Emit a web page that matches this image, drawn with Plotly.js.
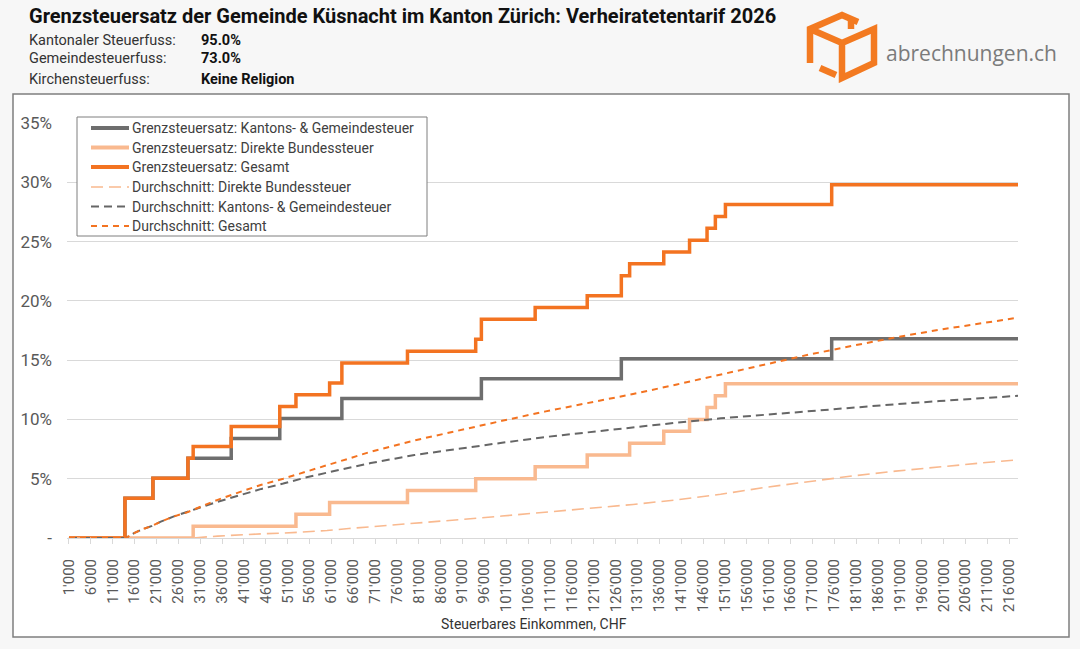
<!DOCTYPE html>
<html>
<head>
<meta charset="utf-8">
<script src="https://cdn.plot.ly/plotly-3.0.1.min.js"></script>
<style>html,body{margin:0;padding:0;background:#f7f7f7;}#chart{width:1080px;height:649px;}</style>
</head>
<body>
<div id="chart"></div>
<script>
// ---- Data (CHF, %) ----
const kgIncome   = [1000, 13800, 20200, 28200, 38100, 49200, 63400, 95300, 127300, 175400, 218000];
const kgRate     = [0, 3.36, 5.04, 6.72, 8.40, 10.08, 11.76, 13.44, 15.12, 16.80, 16.80];

const dbstIncome = [1000, 29400, 52900, 60600, 78400, 94000, 107600, 119500, 129200, 137000, 142900, 146900, 148800, 151100, 218000];
const dbstRate   = [0, 1, 2, 3, 4, 5, 6, 7, 8, 9, 10, 11, 12, 13, 13];

const totIncome  = [1000, 13800, 20200, 28200, 29400, 38100, 49200, 52900, 60600, 63400, 78400, 94000, 95300, 107600, 119500, 127300, 129200, 137000, 142900, 146900, 148800, 151100, 175400, 218000];
const totRate    = [0, 3.36, 5.04, 6.72, 7.72, 9.40, 11.08, 12.08, 13.08, 14.76, 15.76, 16.76, 18.44, 19.44, 20.44, 22.12, 23.12, 24.12, 25.12, 26.12, 27.12, 28.12, 29.80, 29.80];

const avgIncome  = [1000, 14000, 16000, 18000, 20000, 22000, 25000, 28000, 30000, 35000, 40000, 45000, 50000, 55000, 60000, 65000, 70000, 80000, 90000, 100000, 110000, 120000, 130000, 140000, 150000, 160000, 170000, 180000, 190000, 200000, 210000, 218000];
const avgDbst    = [0, 0, 0, 0, 0, 0, 0, 0, 0.02, 0.16, 0.27, 0.35, 0.41, 0.50, 0.63, 0.80, 0.96, 1.23, 1.54, 1.85, 2.16, 2.48, 2.83, 3.22, 3.69, 4.26, 4.77, 5.23, 5.64, 6.01, 6.34, 6.59];
const avgKg      = [0, 0, 0.44, 0.77, 1.02, 1.38, 1.82, 2.16, 2.45, 3.06, 3.60, 4.14, 4.59, 5.09, 5.51, 5.90, 6.32, 7.00, 7.53, 8.03, 8.52, 8.93, 9.31, 9.73, 10.09, 10.40, 10.68, 10.97, 11.28, 11.55, 11.80, 11.99];
const avgTot     = [0, 0, 0.44, 0.77, 1.02, 1.38, 1.82, 2.16, 2.47, 3.22, 3.87, 4.49, 5.00, 5.59, 6.14, 6.70, 7.28, 8.23, 9.07, 9.88, 10.68, 11.41, 12.14, 12.95, 13.78, 14.66, 15.45, 16.20, 16.92, 17.56, 18.14, 18.58];

const xTickVals = [1000, 6000, 11000, 16000, 21000, 26000, 31000, 36000, 41000, 46000, 51000, 56000, 61000, 66000, 71000, 76000, 81000, 86000, 91000, 96000, 101000, 106000, 111000, 116000, 121000, 126000, 131000, 136000, 141000, 146000, 151000, 156000, 161000, 166000, 171000, 176000, 181000, 186000, 191000, 196000, 201000, 206000, 211000, 216000];
const xTickText = ["1'000", "6'000", "11'000", "16'000", "21'000", "26'000", "31'000", "36'000", "41'000", "46'000", "51'000", "56'000", "61'000", "66'000", "71'000", "76'000", "81'000", "86'000", "91'000", "96'000", "101'000", "106'000", "111'000", "116'000", "121'000", "126'000", "131'000", "136'000", "141'000", "146'000", "151'000", "156'000", "161'000", "166'000", "171'000", "176'000", "181'000", "186'000", "191'000", "196'000", "201'000", "206'000", "211'000", "216'000"];
const yTickVals = [0, 5, 10, 15, 20, 25, 30, 35];
const yTickText = ["-", "5%", "10%", "15%", "20%", "25%", "30%", "35%"];

const seriesNames = [
  "Grenzsteuersatz: Kantons- & Gemeindesteuer",
  "Grenzsteuersatz: Direkte Bundessteuer",
  "Grenzsteuersatz: Gesamt",
  "Durchschnitt: Direkte Bundessteuer",
  "Durchschnitt: Kantons- & Gemeindesteuer",
  "Durchschnitt: Gesamt"
];

const title = "Grenzsteuersatz der Gemeinde Küsnacht im Kanton Zürich: Verheiratetentarif 2026";
const infoLabels = ["Kantonaler Steuerfuss:", "Gemeindesteuerfuss:", "Kirchensteuerfuss:"];
const infoValues = ["95.0%", "73.0%", "Keine Religion"];
const xTitle = "Steuerbares Einkommen, CHF";
const brand = "abrechnungen.ch";

// ---- Styles ----
const C_GRAY = "#6e6e6e", C_LIGHT = "#f9b98f", C_ORANGE = "#f37321", C_DGRAY = "#666666";
const FONT = "Roboto, 'Noto Sans', sans-serif";
const styles = [
  {color: C_GRAY, width: 3.5, dash: "solid", shape: "hv"},
  {color: C_LIGHT, width: 3.5, dash: "solid", shape: "hv"},
  {color: C_ORANGE, width: 3.5, dash: "solid", shape: "hv"},
  {color: C_LIGHT, width: 1.6, dash: "12px,6px", shape: "linear"},
  {color: C_DGRAY, width: 2, dash: "8px,5px", shape: "linear"},
  {color: C_ORANGE, width: 2, dash: "6px,5px", shape: "linear"}
];

// plot area in px
const L = 67, R = 1018, T = 123, B = 538;
const px2x = p => (p - L) / (R - L);
const py2y = p => (B - p) / (B - T);

const xs = [kgIncome, dbstIncome, totIncome, avgIncome, avgIncome, avgIncome];
const ys = [kgRate, dbstRate, totRate, avgDbst, avgKg, avgTot];
const traces = xs.map((x, i) => ({
  x: x, y: ys[i], name: seriesNames[i], mode: "lines", showlegend: false,
  line: {shape: styles[i].shape, color: styles[i].color, width: styles[i].width, dash: styles[i].dash}
}));

const annotations = [];
const shapes = [
  {type: "rect", xref: "paper", yref: "paper", x0: px2x(13), x1: px2x(1069), y0: py2y(637), y1: py2y(94), fillcolor: "#ffffff", line: {color: "#7f7f7f", width: 1.5}, layer: "below"}
];

annotations.push({text: "<b>" + title + "</b>", xref: "paper", yref: "paper", x: px2x(27), y: py2y(16), xanchor: "left", yanchor: "middle", showarrow: false, font: {family: FONT, size: 20, color: "#111"}});
const rowsY = [40, 59, 79];
for (let i = 0; i < infoLabels.length; i++) {
  annotations.push({text: infoLabels[i], xref: "paper", yref: "paper", x: px2x(27), y: py2y(rowsY[i]), xanchor: "left", yanchor: "middle", showarrow: false, font: {family: FONT, size: 14.5, color: "#333"}});
  annotations.push({text: "<b>" + infoValues[i] + "</b>", xref: "paper", yref: "paper", x: px2x(199), y: py2y(rowsY[i]), xanchor: "left", yanchor: "middle", showarrow: false, font: {family: FONT, size: 14.5, color: "#111"}});
}
annotations.push({text: brand, xref: "paper", yref: "paper", x: px2x(884), y: py2y(53), xanchor: "left", yanchor: "middle", showarrow: false, font: {family: "'Open Sans', sans-serif", size: 21, color: "#7b7b7b"}});
annotations.push({text: xTitle, xref: "paper", yref: "paper", x: px2x(534), y: py2y(624), xanchor: "center", yanchor: "middle", showarrow: false, font: {family: FONT, size: 14, color: "#333"}});

// ---- Legend (box, samples, labels) ----
const legL = 77, legR = 427, legT = 117, legB = 236;
const legRows = [128, 147.5, 167, 187, 206.5, 226];
shapes.push({type: "rect", xref: "paper", yref: "paper", x0: px2x(legL), x1: px2x(legR), y0: py2y(legB), y1: py2y(legT), fillcolor: "#ffffff", line: {color: "#7f7f7f", width: 1}, layer: "above"});
for (let i = 0; i < seriesNames.length; i++) {
  const s = styles[i];
  shapes.push({type: "line", xref: "paper", yref: "paper", x0: px2x(91), x1: px2x(129), y0: py2y(legRows[i]), y1: py2y(legRows[i]),
    line: {color: s.color, width: s.dash === "solid" ? 4 : s.width, dash: s.dash}, layer: "above"});
  annotations.push({text: seriesNames[i], xref: "paper", yref: "paper", x: px2x(130), y: py2y(legRows[i]), xanchor: "left", yanchor: "middle", showarrow: false, font: {family: FONT, size: 14, color: "#404040"}});
}

const cubeSvg = '<svg xmlns="http://www.w3.org/2000/svg" width="72" height="72" viewBox="0 0 72 72">' +
  '<g fill="none" stroke="#f37a21" stroke-width="6.5" stroke-linejoin="miter" stroke-linecap="butt">' +
  '<path d="M4 52 L4 18 L36 4 L52 11"/>' +
  '<path d="M4 18 L36 32 L68 18 L68 52 L36 67 L36 32"/>' +
  '<path d="M14 57 L30 64"/>' +
  '<path d="M45 18 L45 9"/>' +
  '</g></svg>';

const layout = {
  width: 1080, height: 649,
  paper_bgcolor: "#f7f7f7", plot_bgcolor: "#ffffff",
  margin: {l: L, r: 1080 - R, t: T, b: 649 - B, pad: 0},
  font: {family: FONT, color: "#595959"},
  showlegend: false,
  xaxis: {type: "linear", range: [550, 218000], tickmode: "array", tickvals: xTickVals, ticktext: xTickText, tickangle: -90, tickfont: {family: FONT, size: 15, color: "#595959"}, showgrid: false, zeroline: false, showline: true, linecolor: "#d9d9d9", linewidth: 1, ticks: "outside", ticklen: 5, tickcolor: "#d9d9d9", ticklabelstandoff: 9},
  yaxis: {range: [0, 35], tickmode: "array", tickvals: yTickVals, ticktext: yTickText, tickfont: {family: FONT, size: 17, color: "#595959"}, showgrid: true, gridcolor: "#d9d9d9", gridwidth: 1, zeroline: false, showline: false, ticks: "", ticklabelstandoff: 14},
  shapes: shapes,
  images: [
    {source: "data:image/svg+xml;charset=utf-8," + encodeURIComponent(cubeSvg), xref: "paper", yref: "paper", x: px2x(806), y: py2y(11), sizex: 72 / (R - L), sizey: 72 / (B - T), xanchor: "left", yanchor: "top", sizing: "stretch", layer: "above"}
  ],
  annotations: annotations
};

Plotly.newPlot("chart", traces, layout, {staticPlot: true, displayModeBar: false});
</script>
</body>
</html>
